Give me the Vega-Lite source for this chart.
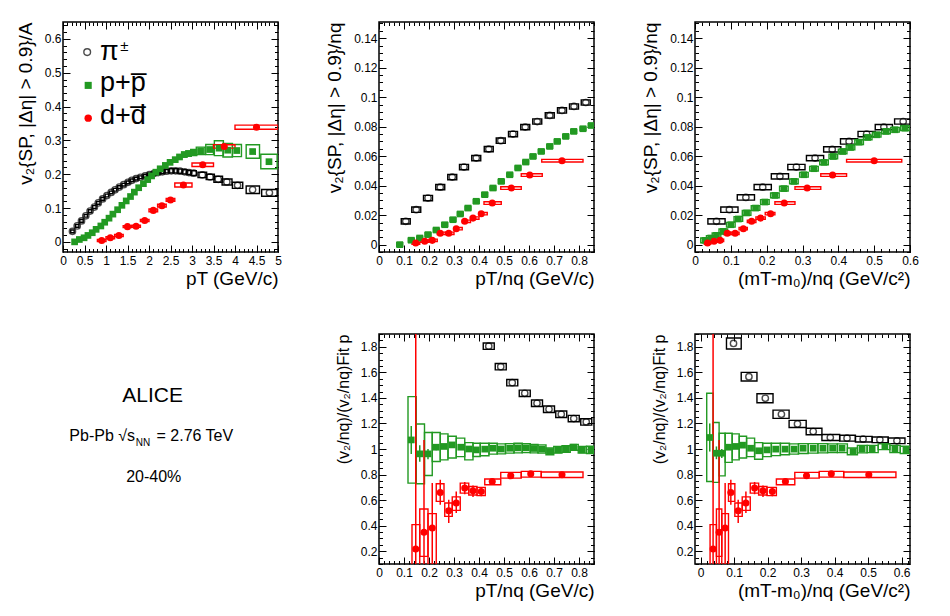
{
  "$schema": "https://vega.github.io/schema/vega-lite/v6.json",
  "autosize": {"type": "pad"},
  "padding": {"left": 15, "top": 20, "right": 0, "bottom": 0},
  "background": "white",
  "columns": 3,
  "spacing": {"row": 82, "column": 101},
  "bounds": "flush",
  "datasets": {
    "tl": [
      {"s":"pi","x":0.22,"y":0.031,"x0":0.18,"x1":0.26,"y0":0.027,"y1":0.035},
      {"s":"pi","x":0.33,"y":0.047,"x0":0.29,"x1":0.37,"y0":0.043,"y1":0.051},
      {"s":"pi","x":0.43,"y":0.062,"x0":0.39,"x1":0.47,"y0":0.058,"y1":0.066},
      {"s":"pi","x":0.53,"y":0.077,"x0":0.49,"x1":0.57,"y0":0.073,"y1":0.081},
      {"s":"pi","x":0.63,"y":0.091,"x0":0.59,"x1":0.67,"y0":0.087,"y1":0.095},
      {"s":"pi","x":0.73,"y":0.103,"x0":0.69,"x1":0.77,"y0":0.099,"y1":0.107},
      {"s":"pi","x":0.82,"y":0.115,"x0":0.78,"x1":0.86,"y0":0.111,"y1":0.119},
      {"s":"pi","x":0.92,"y":0.127,"x0":0.88,"x1":0.96,"y0":0.123,"y1":0.131},
      {"s":"pi","x":1.02,"y":0.137,"x0":0.98,"x1":1.06,"y0":0.133,"y1":0.141},
      {"s":"pi","x":1.12,"y":0.146,"x0":1.08,"x1":1.16,"y0":0.142,"y1":0.150},
      {"s":"pi","x":1.21,"y":0.154,"x0":1.17,"x1":1.25,"y0":0.150,"y1":0.158},
      {"s":"pi","x":1.31,"y":0.162,"x0":1.27,"x1":1.35,"y0":0.158,"y1":0.166},
      {"s":"pi","x":1.41,"y":0.169,"x0":1.37,"x1":1.45,"y0":0.165,"y1":0.173},
      {"s":"pi","x":1.51,"y":0.176,"x0":1.47,"x1":1.55,"y0":0.172,"y1":0.180},
      {"s":"pi","x":1.60,"y":0.182,"x0":1.56,"x1":1.64,"y0":0.178,"y1":0.186},
      {"s":"pi","x":1.70,"y":0.187,"x0":1.66,"x1":1.74,"y0":0.183,"y1":0.191},
      {"s":"pi","x":1.80,"y":0.191,"x0":1.76,"x1":1.84,"y0":0.187,"y1":0.195},
      {"s":"pi","x":1.91,"y":0.195,"x0":1.87,"x1":1.95,"y0":0.191,"y1":0.199},
      {"s":"pi","x":2.01,"y":0.199,"x0":1.97,"x1":2.05,"y0":0.194,"y1":0.204},
      {"s":"pi","x":2.11,"y":0.202,"x0":2.07,"x1":2.15,"y0":0.197,"y1":0.207},
      {"s":"pi","x":2.21,"y":0.205,"x0":2.17,"x1":2.25,"y0":0.200,"y1":0.210},
      {"s":"pi","x":2.31,"y":0.207,"x0":2.27,"x1":2.35,"y0":0.202,"y1":0.212},
      {"s":"pi","x":2.41,"y":0.209,"x0":2.37,"x1":2.45,"y0":0.204,"y1":0.214},
      {"s":"pi","x":2.52,"y":0.210,"x0":2.47,"x1":2.57,"y0":0.204,"y1":0.216},
      {"s":"pi","x":2.62,"y":0.210,"x0":2.57,"x1":2.67,"y0":0.204,"y1":0.216},
      {"s":"pi","x":2.72,"y":0.209,"x0":2.67,"x1":2.77,"y0":0.203,"y1":0.215},
      {"s":"pi","x":2.83,"y":0.207,"x0":2.78,"x1":2.88,"y0":0.201,"y1":0.213},
      {"s":"pi","x":2.93,"y":0.205,"x0":2.88,"x1":2.98,"y0":0.199,"y1":0.211},
      {"s":"pi","x":3.04,"y":0.203,"x0":2.98,"x1":3.10,"y0":0.196,"y1":0.210},
      {"s":"pi","x":3.24,"y":0.198,"x0":3.14,"x1":3.34,"y0":0.190,"y1":0.206},
      {"s":"pi","x":3.42,"y":0.192,"x0":3.33,"x1":3.52,"y0":0.184,"y1":0.200},
      {"s":"pi","x":3.61,"y":0.185,"x0":3.51,"x1":3.71,"y0":0.176,"y1":0.194},
      {"s":"pi","x":3.81,"y":0.177,"x0":3.70,"x1":3.93,"y0":0.168,"y1":0.186},
      {"s":"pi","x":4.06,"y":0.167,"x0":3.94,"x1":4.18,"y0":0.158,"y1":0.176},
      {"s":"pi","x":4.41,"y":0.154,"x0":4.26,"x1":4.57,"y0":0.143,"y1":0.165},
      {"s":"pi","x":4.80,"y":0.145,"x0":4.62,"x1":4.98,"y0":0.135,"y1":0.155},
      {"s":"p","x":0.27,"y":0.000,"x0":0.23,"x1":0.31,"y0":-0.004,"y1":0.004},
      {"s":"p","x":0.38,"y":0.007,"x0":0.34,"x1":0.42,"y0":0.003,"y1":0.011},
      {"s":"p","x":0.49,"y":0.012,"x0":0.45,"x1":0.53,"y0":0.008,"y1":0.016},
      {"s":"p","x":0.58,"y":0.019,"x0":0.54,"x1":0.62,"y0":0.015,"y1":0.023},
      {"s":"p","x":0.68,"y":0.027,"x0":0.64,"x1":0.72,"y0":0.023,"y1":0.031},
      {"s":"p","x":0.77,"y":0.037,"x0":0.73,"x1":0.81,"y0":0.033,"y1":0.041},
      {"s":"p","x":0.88,"y":0.047,"x0":0.84,"x1":0.92,"y0":0.043,"y1":0.051},
      {"s":"p","x":0.97,"y":0.058,"x0":0.93,"x1":1.01,"y0":0.054,"y1":0.062},
      {"s":"p","x":1.07,"y":0.070,"x0":1.03,"x1":1.11,"y0":0.066,"y1":0.074},
      {"s":"p","x":1.16,"y":0.082,"x0":1.12,"x1":1.20,"y0":0.078,"y1":0.086},
      {"s":"p","x":1.27,"y":0.095,"x0":1.23,"x1":1.31,"y0":0.091,"y1":0.099},
      {"s":"p","x":1.37,"y":0.108,"x0":1.33,"x1":1.41,"y0":0.104,"y1":0.112},
      {"s":"p","x":1.47,"y":0.121,"x0":1.43,"x1":1.51,"y0":0.117,"y1":0.125},
      {"s":"p","x":1.57,"y":0.134,"x0":1.53,"x1":1.61,"y0":0.130,"y1":0.138},
      {"s":"p","x":1.66,"y":0.147,"x0":1.62,"x1":1.70,"y0":0.143,"y1":0.151},
      {"s":"p","x":1.76,"y":0.160,"x0":1.72,"x1":1.80,"y0":0.156,"y1":0.164},
      {"s":"p","x":1.87,"y":0.172,"x0":1.83,"x1":1.91,"y0":0.168,"y1":0.176},
      {"s":"p","x":1.97,"y":0.184,"x0":1.93,"x1":2.01,"y0":0.180,"y1":0.188},
      {"s":"p","x":2.06,"y":0.195,"x0":2.02,"x1":2.10,"y0":0.190,"y1":0.200},
      {"s":"p","x":2.16,"y":0.206,"x0":2.12,"x1":2.20,"y0":0.201,"y1":0.211},
      {"s":"p","x":2.26,"y":0.216,"x0":2.22,"x1":2.30,"y0":0.211,"y1":0.221},
      {"s":"p","x":2.38,"y":0.226,"x0":2.34,"x1":2.42,"y0":0.221,"y1":0.231},
      {"s":"p","x":2.49,"y":0.235,"x0":2.45,"x1":2.53,"y0":0.230,"y1":0.240},
      {"s":"p","x":2.61,"y":0.243,"x0":2.56,"x1":2.66,"y0":0.237,"y1":0.249},
      {"s":"p","x":2.71,"y":0.251,"x0":2.66,"x1":2.76,"y0":0.245,"y1":0.257},
      {"s":"p","x":2.82,"y":0.258,"x0":2.76,"x1":2.88,"y0":0.251,"y1":0.265},
      {"s":"p","x":2.92,"y":0.261,"x0":2.86,"x1":2.98,"y0":0.253,"y1":0.269},
      {"s":"p","x":3.04,"y":0.264,"x0":2.97,"x1":3.11,"y0":0.255,"y1":0.273},
      {"s":"p","x":3.20,"y":0.269,"x0":3.10,"x1":3.30,"y0":0.258,"y1":0.280},
      {"s":"p","x":3.41,"y":0.273,"x0":3.32,"x1":3.50,"y0":0.258,"y1":0.288},
      {"s":"p","x":3.63,"y":0.277,"x0":3.52,"x1":3.73,"y0":0.255,"y1":0.299},
      {"s":"p","x":3.83,"y":0.271,"x0":3.72,"x1":3.94,"y0":0.251,"y1":0.291},
      {"s":"p","x":4.04,"y":0.270,"x0":3.94,"x1":4.15,"y0":0.252,"y1":0.288},
      {"s":"p","x":4.41,"y":0.267,"x0":4.26,"x1":4.57,"y0":0.247,"y1":0.287},
      {"s":"p","x":4.79,"y":0.237,"x0":4.60,"x1":4.98,"y0":0.216,"y1":0.259},
      {"s":"d","x":0.9,"y":0.004,"x0":0.8,"x1":1.0,"y0":0.001,"y1":0.007},
      {"s":"d","x":1.1,"y":0.012,"x0":1.0,"x1":1.2,"y0":0.009,"y1":0.015},
      {"s":"d","x":1.3,"y":0.019,"x0":1.2,"x1":1.4,"y0":0.016,"y1":0.022},
      {"s":"d","x":1.5,"y":0.045,"x0":1.4,"x1":1.6,"y0":0.042,"y1":0.048},
      {"s":"d","x":1.7,"y":0.046,"x0":1.6,"x1":1.8,"y0":0.043,"y1":0.049},
      {"s":"d","x":1.9,"y":0.063,"x0":1.8,"x1":2.0,"y0":0.060,"y1":0.066},
      {"s":"d","x":2.1,"y":0.093,"x0":2.0,"x1":2.2,"y0":0.089,"y1":0.097},
      {"s":"d","x":2.3,"y":0.107,"x0":2.2,"x1":2.4,"y0":0.103,"y1":0.111},
      {"s":"d","x":2.5,"y":0.124,"x0":2.4,"x1":2.6,"y0":0.120,"y1":0.128},
      {"s":"d","x":2.8,"y":0.168,"x0":2.6,"x1":3.0,"y0":0.162,"y1":0.174},
      {"s":"d","x":3.25,"y":0.228,"x0":3.0,"x1":3.5,"y0":0.223,"y1":0.233},
      {"s":"d","x":3.75,"y":0.282,"x0":3.5,"x1":4.0,"y0":0.277,"y1":0.287},
      {"s":"d","x":4.5,"y":0.339,"x0":4.0,"x1":5.0,"y0":0.333,"y1":0.345}
    ],
    "tm": [
      {"s":"pi","x":0.107,"y":0.0158,"x0":0.089,"x1":0.125,"y0":0.0140,"y1":0.0176},
      {"s":"pi","x":0.149,"y":0.0237,"x0":0.131,"x1":0.167,"y0":0.0219,"y1":0.0255},
      {"s":"pi","x":0.196,"y":0.0316,"x0":0.178,"x1":0.214,"y0":0.0298,"y1":0.0334},
      {"s":"pi","x":0.245,"y":0.0390,"x0":0.227,"x1":0.263,"y0":0.0372,"y1":0.0408},
      {"s":"pi","x":0.293,"y":0.0458,"x0":0.275,"x1":0.311,"y0":0.0440,"y1":0.0476},
      {"s":"pi","x":0.340,"y":0.0526,"x0":0.322,"x1":0.358,"y0":0.0508,"y1":0.0544},
      {"s":"pi","x":0.389,"y":0.0587,"x0":0.371,"x1":0.407,"y0":0.0569,"y1":0.0605},
      {"s":"pi","x":0.439,"y":0.0648,"x0":0.421,"x1":0.457,"y0":0.0630,"y1":0.0666},
      {"s":"pi","x":0.487,"y":0.0705,"x0":0.469,"x1":0.505,"y0":0.0687,"y1":0.0723},
      {"s":"pi","x":0.536,"y":0.0750,"x0":0.518,"x1":0.554,"y0":0.0732,"y1":0.0768},
      {"s":"pi","x":0.585,"y":0.0797,"x0":0.567,"x1":0.603,"y0":0.0779,"y1":0.0815},
      {"s":"pi","x":0.633,"y":0.0835,"x0":0.615,"x1":0.651,"y0":0.0817,"y1":0.0853},
      {"s":"pi","x":0.683,"y":0.0876,"x0":0.665,"x1":0.701,"y0":0.0858,"y1":0.0894},
      {"s":"pi","x":0.732,"y":0.0910,"x0":0.714,"x1":0.750,"y0":0.0892,"y1":0.0928},
      {"s":"pi","x":0.780,"y":0.0937,"x0":0.762,"x1":0.798,"y0":0.0919,"y1":0.0955},
      {"s":"pi","x":0.827,"y":0.0964,"x0":0.809,"x1":0.845,"y0":0.0946,"y1":0.0982},
      {"s":"p","x":0.083,"y":0.0000,"x0":0.071,"x1":0.095,"y0":-0.0013,"y1":0.0013},
      {"s":"p","x":0.129,"y":0.0030,"x0":0.117,"x1":0.141,"y0":0.0017,"y1":0.0043},
      {"s":"p","x":0.163,"y":0.0045,"x0":0.151,"x1":0.175,"y0":0.0032,"y1":0.0058},
      {"s":"p","x":0.196,"y":0.0068,"x0":0.184,"x1":0.208,"y0":0.0055,"y1":0.0081},
      {"s":"p","x":0.229,"y":0.0099,"x0":0.217,"x1":0.241,"y0":0.0086,"y1":0.0112},
      {"s":"p","x":0.263,"y":0.0135,"x0":0.251,"x1":0.275,"y0":0.0122,"y1":0.0148},
      {"s":"p","x":0.296,"y":0.0169,"x0":0.284,"x1":0.308,"y0":0.0156,"y1":0.0182},
      {"s":"p","x":0.325,"y":0.0208,"x0":0.313,"x1":0.337,"y0":0.0195,"y1":0.0221},
      {"s":"p","x":0.356,"y":0.0248,"x0":0.344,"x1":0.368,"y0":0.0235,"y1":0.0261},
      {"s":"p","x":0.389,"y":0.0294,"x0":0.377,"x1":0.401,"y0":0.0281,"y1":0.0307},
      {"s":"p","x":0.423,"y":0.0339,"x0":0.411,"x1":0.435,"y0":0.0326,"y1":0.0352},
      {"s":"p","x":0.456,"y":0.0384,"x0":0.444,"x1":0.468,"y0":0.0371,"y1":0.0397},
      {"s":"p","x":0.489,"y":0.0429,"x0":0.477,"x1":0.501,"y0":0.0416,"y1":0.0442},
      {"s":"p","x":0.523,"y":0.0474,"x0":0.511,"x1":0.535,"y0":0.0461,"y1":0.0487},
      {"s":"p","x":0.556,"y":0.0520,"x0":0.544,"x1":0.568,"y0":0.0507,"y1":0.0533},
      {"s":"p","x":0.587,"y":0.0560,"x0":0.575,"x1":0.599,"y0":0.0547,"y1":0.0573},
      {"s":"p","x":0.616,"y":0.0598,"x0":0.604,"x1":0.628,"y0":0.0585,"y1":0.0611},
      {"s":"p","x":0.649,"y":0.0632,"x0":0.637,"x1":0.661,"y0":0.0619,"y1":0.0645},
      {"s":"p","x":0.683,"y":0.0666,"x0":0.671,"x1":0.695,"y0":0.0653,"y1":0.0679},
      {"s":"p","x":0.713,"y":0.0700,"x0":0.701,"x1":0.725,"y0":0.0687,"y1":0.0713},
      {"s":"p","x":0.747,"y":0.0734,"x0":0.735,"x1":0.759,"y0":0.0721,"y1":0.0747},
      {"s":"p","x":0.779,"y":0.0768,"x0":0.767,"x1":0.791,"y0":0.0755,"y1":0.0781},
      {"s":"p","x":0.816,"y":0.0786,"x0":0.804,"x1":0.828,"y0":0.0773,"y1":0.0799},
      {"s":"p","x":0.849,"y":0.0808,"x0":0.837,"x1":0.861,"y0":0.0795,"y1":0.0821},
      {"s":"d","x":0.147,"y":0.0011,"x0":0.132,"x1":0.163,"y0":0.0003,"y1":0.0019},
      {"s":"d","x":0.183,"y":0.0023,"x0":0.167,"x1":0.200,"y0":0.0015,"y1":0.0031},
      {"s":"d","x":0.213,"y":0.0029,"x0":0.200,"x1":0.233,"y0":0.0021,"y1":0.0037},
      {"s":"d","x":0.245,"y":0.0077,"x0":0.233,"x1":0.266,"y0":0.0069,"y1":0.0085},
      {"s":"d","x":0.279,"y":0.0077,"x0":0.266,"x1":0.300,"y0":0.0069,"y1":0.0085},
      {"s":"d","x":0.309,"y":0.0108,"x0":0.300,"x1":0.333,"y0":0.0100,"y1":0.0116},
      {"s":"d","x":0.343,"y":0.0158,"x0":0.333,"x1":0.366,"y0":0.0150,"y1":0.0166},
      {"s":"d","x":0.376,"y":0.0180,"x0":0.366,"x1":0.400,"y0":0.0172,"y1":0.0188},
      {"s":"d","x":0.409,"y":0.0210,"x0":0.400,"x1":0.433,"y0":0.0202,"y1":0.0218},
      {"s":"d","x":0.453,"y":0.0282,"x0":0.420,"x1":0.489,"y0":0.0273,"y1":0.0291},
      {"s":"d","x":0.529,"y":0.0384,"x0":0.487,"x1":0.569,"y0":0.0375,"y1":0.0393},
      {"s":"d","x":0.603,"y":0.0472,"x0":0.569,"x1":0.653,"y0":0.0463,"y1":0.0481},
      {"s":"d","x":0.732,"y":0.0569,"x0":0.651,"x1":0.816,"y0":0.0560,"y1":0.0578}
    ],
    "tr": [
      {"s":"pi","x":0.060,"y":0.0158,"x0":0.036,"x1":0.084,"y0":0.0140,"y1":0.0176},
      {"s":"pi","x":0.096,"y":0.0237,"x0":0.072,"x1":0.120,"y0":0.0219,"y1":0.0255},
      {"s":"pi","x":0.142,"y":0.0320,"x0":0.118,"x1":0.166,"y0":0.0302,"y1":0.0338},
      {"s":"pi","x":0.189,"y":0.0390,"x0":0.165,"x1":0.213,"y0":0.0372,"y1":0.0408},
      {"s":"pi","x":0.237,"y":0.0463,"x0":0.213,"x1":0.261,"y0":0.0445,"y1":0.0481},
      {"s":"pi","x":0.283,"y":0.0526,"x0":0.259,"x1":0.307,"y0":0.0508,"y1":0.0544},
      {"s":"pi","x":0.335,"y":0.0587,"x0":0.311,"x1":0.359,"y0":0.0569,"y1":0.0605},
      {"s":"pi","x":0.383,"y":0.0646,"x0":0.359,"x1":0.407,"y0":0.0628,"y1":0.0664},
      {"s":"pi","x":0.430,"y":0.0700,"x0":0.406,"x1":0.454,"y0":0.0682,"y1":0.0718},
      {"s":"pi","x":0.479,"y":0.0750,"x0":0.455,"x1":0.503,"y0":0.0732,"y1":0.0768},
      {"s":"pi","x":0.527,"y":0.0797,"x0":0.503,"x1":0.551,"y0":0.0779,"y1":0.0815},
      {"s":"pi","x":0.581,"y":0.0835,"x0":0.557,"x1":0.605,"y0":0.0817,"y1":0.0853},
      {"s":"p","x":0.028,"y":0.0029,"x0":0.016,"x1":0.040,"y0":0.0013,"y1":0.0045},
      {"s":"p","x":0.044,"y":0.0045,"x0":0.032,"x1":0.056,"y0":0.0029,"y1":0.0061},
      {"s":"p","x":0.060,"y":0.0063,"x0":0.048,"x1":0.072,"y0":0.0047,"y1":0.0079},
      {"s":"p","x":0.079,"y":0.0090,"x0":0.067,"x1":0.091,"y0":0.0074,"y1":0.0106},
      {"s":"p","x":0.100,"y":0.0135,"x0":0.088,"x1":0.112,"y0":0.0119,"y1":0.0151},
      {"s":"p","x":0.121,"y":0.0174,"x0":0.109,"x1":0.133,"y0":0.0158,"y1":0.0190},
      {"s":"p","x":0.144,"y":0.0215,"x0":0.132,"x1":0.156,"y0":0.0199,"y1":0.0231},
      {"s":"p","x":0.169,"y":0.0248,"x0":0.157,"x1":0.181,"y0":0.0232,"y1":0.0264},
      {"s":"p","x":0.195,"y":0.0289,"x0":0.183,"x1":0.207,"y0":0.0273,"y1":0.0305},
      {"s":"p","x":0.223,"y":0.0334,"x0":0.211,"x1":0.235,"y0":0.0318,"y1":0.0350},
      {"s":"p","x":0.248,"y":0.0380,"x0":0.236,"x1":0.260,"y0":0.0364,"y1":0.0396},
      {"s":"p","x":0.276,"y":0.0429,"x0":0.264,"x1":0.288,"y0":0.0413,"y1":0.0445},
      {"s":"p","x":0.304,"y":0.0474,"x0":0.292,"x1":0.316,"y0":0.0458,"y1":0.0490},
      {"s":"p","x":0.332,"y":0.0515,"x0":0.320,"x1":0.344,"y0":0.0499,"y1":0.0531},
      {"s":"p","x":0.360,"y":0.0558,"x0":0.348,"x1":0.372,"y0":0.0542,"y1":0.0574},
      {"s":"p","x":0.386,"y":0.0598,"x0":0.374,"x1":0.398,"y0":0.0582,"y1":0.0614},
      {"s":"p","x":0.412,"y":0.0632,"x0":0.400,"x1":0.424,"y0":0.0616,"y1":0.0648},
      {"s":"p","x":0.434,"y":0.0659,"x0":0.422,"x1":0.446,"y0":0.0643,"y1":0.0675},
      {"s":"p","x":0.458,"y":0.0695,"x0":0.446,"x1":0.470,"y0":0.0679,"y1":0.0711},
      {"s":"p","x":0.482,"y":0.0727,"x0":0.470,"x1":0.494,"y0":0.0711,"y1":0.0743},
      {"s":"p","x":0.507,"y":0.0745,"x0":0.495,"x1":0.519,"y0":0.0729,"y1":0.0761},
      {"s":"p","x":0.533,"y":0.0768,"x0":0.521,"x1":0.545,"y0":0.0752,"y1":0.0784},
      {"s":"p","x":0.558,"y":0.0779,"x0":0.546,"x1":0.570,"y0":0.0763,"y1":0.0795},
      {"s":"p","x":0.586,"y":0.0790,"x0":0.574,"x1":0.598,"y0":0.0774,"y1":0.0806},
      {"s":"d","x":0.035,"y":0.0011,"x0":0.026,"x1":0.044,"y0":0.0003,"y1":0.0019},
      {"s":"d","x":0.053,"y":0.0023,"x0":0.044,"x1":0.062,"y0":0.0015,"y1":0.0031},
      {"s":"d","x":0.070,"y":0.0029,"x0":0.062,"x1":0.080,"y0":0.0021,"y1":0.0037},
      {"s":"d","x":0.090,"y":0.0077,"x0":0.080,"x1":0.100,"y0":0.0069,"y1":0.0085},
      {"s":"d","x":0.112,"y":0.0077,"x0":0.100,"x1":0.123,"y0":0.0069,"y1":0.0085},
      {"s":"d","x":0.135,"y":0.0108,"x0":0.123,"x1":0.146,"y0":0.0100,"y1":0.0116},
      {"s":"d","x":0.158,"y":0.0158,"x0":0.146,"x1":0.170,"y0":0.0150,"y1":0.0166},
      {"s":"d","x":0.183,"y":0.0180,"x0":0.170,"x1":0.196,"y0":0.0172,"y1":0.0188},
      {"s":"d","x":0.211,"y":0.0210,"x0":0.196,"x1":0.223,"y0":0.0202,"y1":0.0218},
      {"s":"d","x":0.249,"y":0.0282,"x0":0.223,"x1":0.279,"y0":0.0273,"y1":0.0291},
      {"s":"d","x":0.313,"y":0.0384,"x0":0.279,"x1":0.351,"y0":0.0375,"y1":0.0393},
      {"s":"d","x":0.384,"y":0.0472,"x0":0.351,"x1":0.423,"y0":0.0463,"y1":0.0481},
      {"s":"d","x":0.500,"y":0.0569,"x0":0.423,"x1":0.577,"y0":0.0560,"y1":0.0578}
    ],
    "bm": [
      {"s":"pi","x":0.439,"y":1.805,"x0":0.417,"x1":0.461,"y0":1.780,"y1":1.830},
      {"s":"pi","x":0.487,"y":1.644,"x0":0.465,"x1":0.509,"y0":1.619,"y1":1.669},
      {"s":"pi","x":0.533,"y":1.519,"x0":0.511,"x1":0.555,"y0":1.494,"y1":1.544},
      {"s":"pi","x":0.583,"y":1.436,"x0":0.561,"x1":0.605,"y0":1.411,"y1":1.461},
      {"s":"pi","x":0.632,"y":1.358,"x0":0.610,"x1":0.654,"y0":1.333,"y1":1.383},
      {"s":"pi","x":0.680,"y":1.311,"x0":0.658,"x1":0.702,"y0":1.286,"y1":1.336},
      {"s":"pi","x":0.729,"y":1.272,"x0":0.707,"x1":0.751,"y0":1.247,"y1":1.297},
      {"s":"pi","x":0.779,"y":1.238,"x0":0.757,"x1":0.801,"y0":1.213,"y1":1.263},
      {"s":"pi","x":0.829,"y":1.212,"x0":0.807,"x1":0.851,"y0":1.187,"y1":1.237},
      {"s":"p","x":0.129,"y":1.071,"x0":0.116,"x1":0.149,"y0":0.733,"y1":1.410,"e0":0.96,"e1":1.18},
      {"s":"p","x":0.163,"y":0.962,"x0":0.149,"x1":0.182,"y0":0.728,"y1":1.196,"e0":0.90,"e1":1.03},
      {"s":"p","x":0.196,"y":0.962,"x0":0.182,"x1":0.213,"y0":0.793,"y1":1.129,"e0":0.92,"e1":1.00},
      {"s":"p","x":0.229,"y":1.014,"x0":0.213,"x1":0.245,"y0":0.902,"y1":1.129,"e0":0.99,"e1":1.04},
      {"s":"p","x":0.260,"y":1.020,"x0":0.245,"x1":0.276,"y0":0.915,"y1":1.118},
      {"s":"p","x":0.293,"y":1.032,"x0":0.276,"x1":0.309,"y0":0.930,"y1":1.100},
      {"s":"p","x":0.327,"y":1.014,"x0":0.309,"x1":0.343,"y0":0.940,"y1":1.085},
      {"s":"p","x":0.359,"y":1.000,"x0":0.343,"x1":0.376,"y0":0.915,"y1":1.050},
      {"s":"p","x":0.389,"y":0.993,"x0":0.376,"x1":0.405,"y0":0.941,"y1":1.045},
      {"s":"p","x":0.423,"y":0.999,"x0":0.405,"x1":0.440,"y0":0.947,"y1":1.045},
      {"s":"p","x":0.456,"y":1.006,"x0":0.440,"x1":0.473,"y0":0.960,"y1":1.045},
      {"s":"p","x":0.489,"y":1.000,"x0":0.473,"x1":0.506,"y0":0.962,"y1":1.040},
      {"s":"p","x":0.523,"y":1.006,"x0":0.506,"x1":0.540,"y0":0.968,"y1":1.042},
      {"s":"p","x":0.556,"y":1.009,"x0":0.540,"x1":0.573,"y0":0.970,"y1":1.045},
      {"s":"p","x":0.589,"y":1.009,"x0":0.573,"x1":0.605,"y0":0.972,"y1":1.042},
      {"s":"p","x":0.620,"y":1.004,"x0":0.605,"x1":0.636,"y0":0.970,"y1":1.035},
      {"s":"p","x":0.653,"y":0.999,"x0":0.636,"x1":0.668,"y0":0.968,"y1":1.032},
      {"s":"p","x":0.683,"y":0.980,"x0":0.668,"x1":0.699,"y0":0.955,"y1":1.008},
      {"s":"p","x":0.716,"y":0.993,"x0":0.699,"x1":0.732,"y0":0.968,"y1":1.020},
      {"s":"p","x":0.749,"y":0.999,"x0":0.732,"x1":0.765,"y0":0.974,"y1":1.025},
      {"s":"p","x":0.779,"y":1.014,"x0":0.765,"x1":0.797,"y0":0.990,"y1":1.036},
      {"s":"p","x":0.813,"y":0.993,"x0":0.797,"x1":0.830,"y0":0.968,"y1":1.020},
      {"s":"p","x":0.849,"y":0.993,"x0":0.830,"x1":0.862,"y0":0.965,"y1":1.022},
      {"s":"d","x":0.147,"y":0.218,"x0":0.132,"x1":0.163,"y0":0.020,"y1":0.408,"e0":-1.0,"e1":3.0},
      {"s":"d","x":0.180,"y":0.348,"x0":0.163,"x1":0.196,"y0":0.160,"y1":0.530,"e0":-1.0,"e1":1.07},
      {"s":"d","x":0.213,"y":0.382,"x0":0.196,"x1":0.229,"y0":0.096,"y1":0.494,"e0":-1.0,"e1":0.733},
      {"s":"d","x":0.245,"y":0.660,"x0":0.229,"x1":0.260,"y0":0.590,"y1":0.728,"e0":0.564,"e1":0.760},
      {"s":"d","x":0.279,"y":0.517,"x0":0.263,"x1":0.293,"y0":0.473,"y1":0.577,"e0":0.420,"e1":0.603},
      {"s":"d","x":0.309,"y":0.577,"x0":0.293,"x1":0.325,"y0":0.520,"y1":0.625,"e0":0.500,"e1":0.668},
      {"s":"d","x":0.343,"y":0.694,"x0":0.325,"x1":0.359,"y0":0.655,"y1":0.733,"e0":0.646,"e1":0.742},
      {"s":"d","x":0.376,"y":0.673,"x0":0.359,"x1":0.392,"y0":0.640,"y1":0.706,"e0":0.625,"e1":0.715},
      {"s":"d","x":0.409,"y":0.668,"x0":0.392,"x1":0.425,"y0":0.635,"y1":0.700,"e0":0.630,"e1":0.700},
      {"s":"d","x":0.453,"y":0.746,"x0":0.423,"x1":0.487,"y0":0.720,"y1":0.765,"e0":0.720,"e1":0.770},
      {"s":"d","x":0.527,"y":0.790,"x0":0.487,"x1":0.569,"y0":0.772,"y1":0.817},
      {"s":"d","x":0.607,"y":0.806,"x0":0.569,"x1":0.649,"y0":0.780,"y1":0.825},
      {"s":"d","x":0.732,"y":0.798,"x0":0.649,"x1":0.816,"y0":0.777,"y1":0.820}
    ],
    "br": [
      {"s":"pi","x":0.098,"y":1.826,"x0":0.077,"x1":0.121,"y0":1.783,"y1":1.869},
      {"s":"pi","x":0.144,"y":1.566,"x0":0.121,"x1":0.168,"y0":1.532,"y1":1.600},
      {"s":"pi","x":0.193,"y":1.397,"x0":0.168,"x1":0.216,"y0":1.362,"y1":1.432},
      {"s":"pi","x":0.241,"y":1.272,"x0":0.216,"x1":0.264,"y0":1.240,"y1":1.304},
      {"s":"pi","x":0.289,"y":1.196,"x0":0.264,"x1":0.315,"y0":1.168,"y1":1.224},
      {"s":"pi","x":0.336,"y":1.137,"x0":0.315,"x1":0.362,"y0":1.112,"y1":1.162},
      {"s":"pi","x":0.387,"y":1.090,"x0":0.362,"x1":0.415,"y0":1.066,"y1":1.114},
      {"s":"pi","x":0.437,"y":1.085,"x0":0.415,"x1":0.462,"y0":1.062,"y1":1.108},
      {"s":"pi","x":0.485,"y":1.077,"x0":0.462,"x1":0.512,"y0":1.055,"y1":1.099},
      {"s":"pi","x":0.535,"y":1.072,"x0":0.512,"x1":0.560,"y0":1.050,"y1":1.094},
      {"s":"pi","x":0.586,"y":1.064,"x0":0.560,"x1":0.610,"y0":1.042,"y1":1.086},
      {"s":"p","x":0.027,"y":1.090,"x0":0.018,"x1":0.037,"y0":0.746,"y1":1.436,"e0":0.98,"e1":1.20},
      {"s":"p","x":0.047,"y":0.967,"x0":0.037,"x1":0.055,"y0":0.739,"y1":1.207,"e0":0.92,"e1":1.02},
      {"s":"p","x":0.063,"y":0.967,"x0":0.055,"x1":0.073,"y0":0.790,"y1":1.123,"e0":0.93,"e1":1.00},
      {"s":"p","x":0.083,"y":1.014,"x0":0.073,"x1":0.094,"y0":0.895,"y1":1.123},
      {"s":"p","x":0.105,"y":1.020,"x0":0.094,"x1":0.115,"y0":0.915,"y1":1.118},
      {"s":"p","x":0.125,"y":1.030,"x0":0.115,"x1":0.137,"y0":0.930,"y1":1.100},
      {"s":"p","x":0.149,"y":1.006,"x0":0.137,"x1":0.161,"y0":0.940,"y1":1.085},
      {"s":"p","x":0.173,"y":0.986,"x0":0.161,"x1":0.185,"y0":0.920,"y1":1.050},
      {"s":"p","x":0.198,"y":0.993,"x0":0.185,"x1":0.211,"y0":0.940,"y1":1.045},
      {"s":"p","x":0.224,"y":0.999,"x0":0.211,"x1":0.238,"y0":0.948,"y1":1.045},
      {"s":"p","x":0.252,"y":0.999,"x0":0.238,"x1":0.265,"y0":0.955,"y1":1.045},
      {"s":"p","x":0.279,"y":0.999,"x0":0.265,"x1":0.292,"y0":0.960,"y1":1.040},
      {"s":"p","x":0.306,"y":1.006,"x0":0.292,"x1":0.321,"y0":0.965,"y1":1.042},
      {"s":"p","x":0.336,"y":1.006,"x0":0.321,"x1":0.350,"y0":0.968,"y1":1.042},
      {"s":"p","x":0.365,"y":1.006,"x0":0.350,"x1":0.379,"y0":0.970,"y1":1.042},
      {"s":"p","x":0.394,"y":1.006,"x0":0.379,"x1":0.408,"y0":0.972,"y1":1.040},
      {"s":"p","x":0.422,"y":1.006,"x0":0.408,"x1":0.438,"y0":0.972,"y1":1.040},
      {"s":"p","x":0.455,"y":0.980,"x0":0.438,"x1":0.468,"y0":0.955,"y1":1.008},
      {"s":"p","x":0.482,"y":0.999,"x0":0.468,"x1":0.497,"y0":0.970,"y1":1.028},
      {"s":"p","x":0.512,"y":0.999,"x0":0.497,"x1":0.530,"y0":0.972,"y1":1.028},
      {"s":"p","x":0.550,"y":1.019,"x0":0.530,"x1":0.565,"y0":0.995,"y1":1.040},
      {"s":"p","x":0.580,"y":0.999,"x0":0.565,"x1":0.596,"y0":0.972,"y1":1.028},
      {"s":"p","x":0.613,"y":0.993,"x0":0.596,"x1":0.630,"y0":0.965,"y1":1.022},
      {"s":"d","x":0.037,"y":0.218,"x0":0.028,"x1":0.047,"y0":0.020,"y1":0.408,"e0":-1.0,"e1":3.0},
      {"s":"d","x":0.055,"y":0.348,"x0":0.047,"x1":0.063,"y0":0.160,"y1":0.530,"e0":-1.0,"e1":1.07},
      {"s":"d","x":0.073,"y":0.382,"x0":0.063,"x1":0.083,"y0":0.096,"y1":0.494,"e0":-1.0,"e1":0.733},
      {"s":"d","x":0.090,"y":0.660,"x0":0.083,"x1":0.102,"y0":0.590,"y1":0.728,"e0":0.564,"e1":0.760},
      {"s":"d","x":0.112,"y":0.517,"x0":0.102,"x1":0.124,"y0":0.473,"y1":0.577,"e0":0.420,"e1":0.603},
      {"s":"d","x":0.135,"y":0.577,"x0":0.124,"x1":0.148,"y0":0.520,"y1":0.625,"e0":0.500,"e1":0.668},
      {"s":"d","x":0.161,"y":0.694,"x0":0.148,"x1":0.173,"y0":0.655,"y1":0.733,"e0":0.646,"e1":0.742},
      {"s":"d","x":0.186,"y":0.673,"x0":0.173,"x1":0.198,"y0":0.640,"y1":0.706,"e0":0.625,"e1":0.715},
      {"s":"d","x":0.214,"y":0.668,"x0":0.198,"x1":0.226,"y0":0.635,"y1":0.700,"e0":0.630,"e1":0.700},
      {"s":"d","x":0.253,"y":0.746,"x0":0.226,"x1":0.281,"y0":0.720,"y1":0.765,"e0":0.720,"e1":0.770},
      {"s":"d","x":0.316,"y":0.790,"x0":0.281,"x1":0.354,"y0":0.772,"y1":0.817},
      {"s":"d","x":0.390,"y":0.806,"x0":0.354,"x1":0.427,"y0":0.780,"y1":0.825},
      {"s":"d","x":0.502,"y":0.798,"x0":0.427,"x1":0.583,"y0":0.777,"y1":0.820}
    ],
    "legm": [
      {"s":"pi","x":0.5625,"y":0.561},
      {"s":"p","x":0.586,"y":0.4626},
      {"s":"d","x":0.586,"y":0.3657}
    ],
    "legt": [
      {"k":"main","t":"π","x":0.86,"y":0.539},
      {"k":"sup","t":"±","x":1.33,"y":0.565},
      {"k":"main","t":"p+p\u0305","x":0.86,"y":0.445},
      {"k":"main","t":"d+d\u0305","x":0.86,"y":0.348}
    ],
    "info": [
      {"k":"title","t":"ALICE","x":0.417,"y":0.703},
      {"k":"c","t":"20-40%","x":0.422,"y":0.356},
      {"k":"r","t":"Pb-Pb √s","x":0.335,"y":0.534},
      {"k":"sub","t":"NN","x":0.338,"y":0.512},
      {"k":"l","t":"= 2.76 TeV","x":0.435,"y":0.534}
    ]
  },
  "concat": [
    {
      "width": 215, "height": 230,
      "data": {"name": "tl"},
      "resolve": {"axis": {"x": "independent", "y": "independent"}},
      "layer": [
        {
          "transform": [{"filter": "isValid(datum.x0)"}],
          "mark": {"type": "rect", "filled": false, "strokeWidth": 1.4, "clip": true},
          "encoding": {
            "x": {"field": "x0", "type": "quantitative", "scale": {"domain": [0, 5], "nice": false, "zero": false},
                  "axis": {"orient": "bottom", "values": [0,0.5,1,1.5,2,2.5,3,3.5,4,4.5,5], "format": "~g", "ticks": false, "labelPadding": 3, "title": "pT (GeV/c)", "titleAnchor": "end", "titlePadding": 3}},
            "x2": {"field": "x1"},
            "y": {"field": "y0", "type": "quantitative", "scale": {"domain": [-0.03, 0.65], "nice": false, "zero": false},
                  "axis": {"orient": "left", "values": [0,0.1,0.2,0.3,0.4,0.5,0.6], "format": "~g", "ticks": false, "labelPadding": 2, "title": "v₂{SP, |Δη| > 0.9}/A", "titleAnchor": "end", "titlePadding": 9}},
            "y2": {"field": "y1"},
            "color": {"field": "s", "type": "nominal", "scale": {"domain": ["pi","p","d"], "range": ["black","#229922","#ff0000"]}, "legend": null}
          }
        },
        {
          "transform": [{"filter": "isValid(datum.e0)"}],
          "mark": {"type": "rule", "strokeWidth": 1.5, "clip": true},
          "encoding": {
            "x": {"field": "x", "type": "quantitative", "scale": {"domain": [0, 5], "nice": false, "zero": false},
                  "axis": {"orient": "bottom", "values": [0,0.5,1,1.5,2,2.5,3,3.5,4,4.5,5], "labels": false, "title": null, "tickSize": 7, "offset": -7}},
            "y": {"field": "e0", "type": "quantitative", "scale": {"domain": [-0.03, 0.65], "nice": false, "zero": false},
                  "axis": {"orient": "left", "values": [0,0.1,0.2,0.3,0.4,0.5,0.6], "labels": false, "title": null, "tickSize": 7, "offset": -7}},
            "y2": {"field": "e1"},
            "color": {"field": "s", "type": "nominal", "scale": {"domain": ["pi","p","d"], "range": ["black","#229922","#ff0000"]}, "legend": null}
          }
        },
        {
          "transform": [{"filter": "datum.s == 'pi'"}],
          "mark": {"type": "point", "shape": "circle", "filled": false, "size": 40, "strokeWidth": 1.4, "color": "black", "clip": true},
          "encoding": {
            "x": {"field": "x", "type": "quantitative", "scale": {"domain": [0, 5], "nice": false, "zero": false},
                  "axis": {"orient": "top", "values": [0,0.5,1,1.5,2,2.5,3,3.5,4,4.5,5], "labels": false, "title": null, "tickSize": 7, "offset": -7}},
            "y": {"field": "y", "type": "quantitative", "scale": {"domain": [-0.03, 0.65], "nice": false, "zero": false},
                  "axis": {"orient": "right", "values": [0,0.1,0.2,0.3,0.4,0.5,0.6], "labels": false, "title": null, "tickSize": 7, "offset": -7}}
          }
        },
        {
          "transform": [{"filter": "datum.s == 'p'"}],
          "mark": {"type": "square", "size": 45, "color": "#229922", "opacity": 1, "clip": true},
          "encoding": {
            "x": {"field": "x", "type": "quantitative", "scale": {"domain": [0, 5], "nice": false, "zero": false},
                  "axis": {"orient": "bottom", "tickCount": 50, "labels": false, "title": null, "tickSize": 3.5, "offset": -3.5}},
            "y": {"field": "y", "type": "quantitative", "scale": {"domain": [-0.03, 0.65], "nice": false, "zero": false},
                  "axis": {"orient": "left", "tickCount": 34, "labels": false, "title": null, "tickSize": 3.5, "offset": -3.5}}
          }
        },
        {
          "transform": [{"filter": "datum.s == 'd'"}],
          "mark": {"type": "circle", "size": 50, "color": "#ff0000", "opacity": 1, "clip": true},
          "encoding": {
            "x": {"field": "x", "type": "quantitative", "scale": {"domain": [0, 5], "nice": false, "zero": false},
                  "axis": {"orient": "top", "tickCount": 50, "labels": false, "title": null, "tickSize": 3.5, "offset": -3.5}},
            "y": {"field": "y", "type": "quantitative", "scale": {"domain": [-0.03, 0.65], "nice": false, "zero": false},
                  "axis": {"orient": "right", "tickCount": 34, "labels": false, "title": null, "tickSize": 3.5, "offset": -3.5}}
          }
        },
        {
          "data": {"name": "legm"},
          "transform": [{"filter": "datum.s == 'pi'"}],
          "mark": {"type": "point", "shape": "circle", "filled": false, "size": 45, "strokeWidth": 1.4, "color": "black"},
          "encoding": {
            "x": {"field": "x", "type": "quantitative", "scale": {"domain": [0, 5], "nice": false, "zero": false}, "axis": null},
            "y": {"field": "y", "type": "quantitative", "scale": {"domain": [-0.03, 0.65], "nice": false, "zero": false}, "axis": null}
          }
        },
        {
          "data": {"name": "legm"},
          "transform": [{"filter": "datum.s == 'p'"}],
          "mark": {"type": "square", "size": 50, "color": "#229922", "opacity": 1},
          "encoding": {
            "x": {"field": "x", "type": "quantitative", "scale": {"domain": [0, 5], "nice": false, "zero": false}, "axis": null},
            "y": {"field": "y", "type": "quantitative", "scale": {"domain": [-0.03, 0.65], "nice": false, "zero": false}, "axis": null}
          }
        },
        {
          "data": {"name": "legm"},
          "transform": [{"filter": "datum.s == 'd'"}],
          "mark": {"type": "circle", "size": 55, "color": "#ff0000", "opacity": 1},
          "encoding": {
            "x": {"field": "x", "type": "quantitative", "scale": {"domain": [0, 5], "nice": false, "zero": false}, "axis": null},
            "y": {"field": "y", "type": "quantitative", "scale": {"domain": [-0.03, 0.65], "nice": false, "zero": false}, "axis": null}
          }
        },
        {
          "data": {"name": "legt"},
          "transform": [{"filter": "datum.k == 'main'"}],
          "mark": {"type": "text", "fontSize": 27, "align": "left", "baseline": "alphabetic", "color": "black"},
          "encoding": {
            "x": {"field": "x", "type": "quantitative", "scale": {"domain": [0, 5], "nice": false, "zero": false}, "axis": null},
            "y": {"field": "y", "type": "quantitative", "scale": {"domain": [-0.03, 0.65], "nice": false, "zero": false}, "axis": null},
            "text": {"field": "t"}
          }
        },
        {
          "data": {"name": "legt"},
          "transform": [{"filter": "datum.k == 'sup'"}],
          "mark": {"type": "text", "fontSize": 15, "align": "left", "baseline": "alphabetic", "color": "black"},
          "encoding": {
            "x": {"field": "x", "type": "quantitative", "scale": {"domain": [0, 5], "nice": false, "zero": false}, "axis": null},
            "y": {"field": "y", "type": "quantitative", "scale": {"domain": [-0.03, 0.65], "nice": false, "zero": false}, "axis": null},
            "text": {"field": "t"}
          }
        }
      ]
    },
    {
      "width": 215, "height": 230,
      "data": {"name": "tm"},
      "resolve": {"axis": {"x": "independent", "y": "independent"}},
      "layer": [
        {
          "transform": [{"filter": "isValid(datum.x0)"}],
          "mark": {"type": "rect", "filled": false, "strokeWidth": 1.4, "clip": true},
          "encoding": {
            "x": {"field": "x0", "type": "quantitative", "scale": {"domain": [0, 0.86], "nice": false, "zero": false},
                  "axis": {"orient": "bottom", "values": [0,0.1,0.2,0.3,0.4,0.5,0.6,0.7,0.8], "format": "~g", "ticks": false, "labelPadding": 3, "title": "pT/nq (GeV/c)", "titleAnchor": "end", "titlePadding": 3}},
            "x2": {"field": "x1"},
            "y": {"field": "y0", "type": "quantitative", "scale": {"domain": [-0.005, 0.151], "nice": false, "zero": false},
                  "axis": {"orient": "left", "values": [0,0.02,0.04,0.06,0.08,0.1,0.12,0.14], "format": "~g", "ticks": false, "labelPadding": 2, "title": "v₂{SP, |Δη| > 0.9}/nq", "titleAnchor": "end", "titlePadding": 9}},
            "y2": {"field": "y1"},
            "color": {"field": "s", "type": "nominal", "scale": {"domain": ["pi","p","d"], "range": ["black","#229922","#ff0000"]}, "legend": null}
          }
        },
        {
          "transform": [{"filter": "isValid(datum.e0)"}],
          "mark": {"type": "rule", "strokeWidth": 1.5, "clip": true},
          "encoding": {
            "x": {"field": "x", "type": "quantitative", "scale": {"domain": [0, 0.86], "nice": false, "zero": false},
                  "axis": {"orient": "bottom", "values": [0,0.1,0.2,0.3,0.4,0.5,0.6,0.7,0.8], "labels": false, "title": null, "tickSize": 7, "offset": -7}},
            "y": {"field": "e0", "type": "quantitative", "scale": {"domain": [-0.005, 0.151], "nice": false, "zero": false},
                  "axis": {"orient": "left", "values": [0,0.02,0.04,0.06,0.08,0.1,0.12,0.14], "labels": false, "title": null, "tickSize": 7, "offset": -7}},
            "y2": {"field": "e1"},
            "color": {"field": "s", "type": "nominal", "scale": {"domain": ["pi","p","d"], "range": ["black","#229922","#ff0000"]}, "legend": null}
          }
        },
        {
          "transform": [{"filter": "datum.s == 'pi'"}],
          "mark": {"type": "point", "shape": "circle", "filled": false, "size": 40, "strokeWidth": 1.4, "color": "black", "clip": true},
          "encoding": {
            "x": {"field": "x", "type": "quantitative", "scale": {"domain": [0, 0.86], "nice": false, "zero": false},
                  "axis": {"orient": "top", "values": [0,0.1,0.2,0.3,0.4,0.5,0.6,0.7,0.8], "labels": false, "title": null, "tickSize": 7, "offset": -7}},
            "y": {"field": "y", "type": "quantitative", "scale": {"domain": [-0.005, 0.151], "nice": false, "zero": false},
                  "axis": {"orient": "right", "values": [0,0.02,0.04,0.06,0.08,0.1,0.12,0.14], "labels": false, "title": null, "tickSize": 7, "offset": -7}}
          }
        },
        {
          "transform": [{"filter": "datum.s == 'p'"}],
          "mark": {"type": "square", "size": 45, "color": "#229922", "opacity": 1, "clip": true},
          "encoding": {
            "x": {"field": "x", "type": "quantitative", "scale": {"domain": [0, 0.86], "nice": false, "zero": false},
                  "axis": {"orient": "bottom", "tickCount": 43, "labels": false, "title": null, "tickSize": 3.5, "offset": -3.5}},
            "y": {"field": "y", "type": "quantitative", "scale": {"domain": [-0.005, 0.151], "nice": false, "zero": false},
                  "axis": {"orient": "left", "tickCount": 31, "labels": false, "title": null, "tickSize": 3.5, "offset": -3.5}}
          }
        },
        {
          "transform": [{"filter": "datum.s == 'd'"}],
          "mark": {"type": "circle", "size": 50, "color": "#ff0000", "opacity": 1, "clip": true},
          "encoding": {
            "x": {"field": "x", "type": "quantitative", "scale": {"domain": [0, 0.86], "nice": false, "zero": false},
                  "axis": {"orient": "top", "tickCount": 43, "labels": false, "title": null, "tickSize": 3.5, "offset": -3.5}},
            "y": {"field": "y", "type": "quantitative", "scale": {"domain": [-0.005, 0.151], "nice": false, "zero": false},
                  "axis": {"orient": "right", "tickCount": 31, "labels": false, "title": null, "tickSize": 3.5, "offset": -3.5}}
          }
        }
      ]
    },
    {
      "width": 215, "height": 230,
      "data": {"name": "tr"},
      "resolve": {"axis": {"x": "independent", "y": "independent"}},
      "layer": [
        {
          "transform": [{"filter": "isValid(datum.x0)"}],
          "mark": {"type": "rect", "filled": false, "strokeWidth": 1.4, "clip": true},
          "encoding": {
            "x": {"field": "x0", "type": "quantitative", "scale": {"domain": [0, 0.6], "nice": false, "zero": false},
                  "axis": {"orient": "bottom", "values": [0,0.1,0.2,0.3,0.4,0.5,0.6], "format": "~g", "ticks": false, "labelPadding": 3, "title": "(mT-m₀)/nq (GeV/c²)", "titleAnchor": "end", "titlePadding": 3}},
            "x2": {"field": "x1"},
            "y": {"field": "y0", "type": "quantitative", "scale": {"domain": [-0.005, 0.151], "nice": false, "zero": false},
                  "axis": {"orient": "left", "values": [0,0.02,0.04,0.06,0.08,0.1,0.12,0.14], "format": "~g", "ticks": false, "labelPadding": 2, "title": "v₂{SP, |Δη| > 0.9}/nq", "titleAnchor": "end", "titlePadding": 9}},
            "y2": {"field": "y1"},
            "color": {"field": "s", "type": "nominal", "scale": {"domain": ["pi","p","d"], "range": ["black","#229922","#ff0000"]}, "legend": null}
          }
        },
        {
          "transform": [{"filter": "isValid(datum.e0)"}],
          "mark": {"type": "rule", "strokeWidth": 1.5, "clip": true},
          "encoding": {
            "x": {"field": "x", "type": "quantitative", "scale": {"domain": [0, 0.6], "nice": false, "zero": false},
                  "axis": {"orient": "bottom", "values": [0,0.1,0.2,0.3,0.4,0.5,0.6], "labels": false, "title": null, "tickSize": 7, "offset": -7}},
            "y": {"field": "e0", "type": "quantitative", "scale": {"domain": [-0.005, 0.151], "nice": false, "zero": false},
                  "axis": {"orient": "left", "values": [0,0.02,0.04,0.06,0.08,0.1,0.12,0.14], "labels": false, "title": null, "tickSize": 7, "offset": -7}},
            "y2": {"field": "e1"},
            "color": {"field": "s", "type": "nominal", "scale": {"domain": ["pi","p","d"], "range": ["black","#229922","#ff0000"]}, "legend": null}
          }
        },
        {
          "transform": [{"filter": "datum.s == 'pi'"}],
          "mark": {"type": "point", "shape": "circle", "filled": false, "size": 40, "strokeWidth": 1.4, "color": "black", "clip": true},
          "encoding": {
            "x": {"field": "x", "type": "quantitative", "scale": {"domain": [0, 0.6], "nice": false, "zero": false},
                  "axis": {"orient": "top", "values": [0,0.1,0.2,0.3,0.4,0.5,0.6], "labels": false, "title": null, "tickSize": 7, "offset": -7}},
            "y": {"field": "y", "type": "quantitative", "scale": {"domain": [-0.005, 0.151], "nice": false, "zero": false},
                  "axis": {"orient": "right", "values": [0,0.02,0.04,0.06,0.08,0.1,0.12,0.14], "labels": false, "title": null, "tickSize": 7, "offset": -7}}
          }
        },
        {
          "transform": [{"filter": "datum.s == 'p'"}],
          "mark": {"type": "square", "size": 45, "color": "#229922", "opacity": 1, "clip": true},
          "encoding": {
            "x": {"field": "x", "type": "quantitative", "scale": {"domain": [0, 0.6], "nice": false, "zero": false},
                  "axis": {"orient": "bottom", "tickCount": 30, "labels": false, "title": null, "tickSize": 3.5, "offset": -3.5}},
            "y": {"field": "y", "type": "quantitative", "scale": {"domain": [-0.005, 0.151], "nice": false, "zero": false},
                  "axis": {"orient": "left", "tickCount": 31, "labels": false, "title": null, "tickSize": 3.5, "offset": -3.5}}
          }
        },
        {
          "transform": [{"filter": "datum.s == 'd'"}],
          "mark": {"type": "circle", "size": 50, "color": "#ff0000", "opacity": 1, "clip": true},
          "encoding": {
            "x": {"field": "x", "type": "quantitative", "scale": {"domain": [0, 0.6], "nice": false, "zero": false},
                  "axis": {"orient": "top", "tickCount": 30, "labels": false, "title": null, "tickSize": 3.5, "offset": -3.5}},
            "y": {"field": "y", "type": "quantitative", "scale": {"domain": [-0.005, 0.151], "nice": false, "zero": false},
                  "axis": {"orient": "right", "tickCount": 31, "labels": false, "title": null, "tickSize": 3.5, "offset": -3.5}}
          }
        }
      ]
    },
    {
      "width": 215, "height": 230,
      "view": {"stroke": null},
      "data": {"name": "info"},
      "layer": [
        {
          "transform": [{"filter": "datum.k == 'title'"}],
          "mark": {"type": "text", "fontSize": 21, "align": "center", "baseline": "alphabetic", "color": "black"},
          "encoding": {
            "x": {"field": "x", "type": "quantitative", "scale": {"domain": [0, 1]}, "axis": null},
            "y": {"field": "y", "type": "quantitative", "scale": {"domain": [0, 1]}, "axis": null},
            "text": {"field": "t"}
          }
        },
        {
          "transform": [{"filter": "datum.k == 'c'"}],
          "mark": {"type": "text", "fontSize": 16, "align": "center", "baseline": "alphabetic", "color": "black"},
          "encoding": {
            "x": {"field": "x", "type": "quantitative", "scale": {"domain": [0, 1]}, "axis": null},
            "y": {"field": "y", "type": "quantitative", "scale": {"domain": [0, 1]}, "axis": null},
            "text": {"field": "t"}
          }
        },
        {
          "transform": [{"filter": "datum.k == 'r'"}],
          "mark": {"type": "text", "fontSize": 16, "align": "right", "baseline": "alphabetic", "color": "black"},
          "encoding": {
            "x": {"field": "x", "type": "quantitative", "scale": {"domain": [0, 1]}, "axis": null},
            "y": {"field": "y", "type": "quantitative", "scale": {"domain": [0, 1]}, "axis": null},
            "text": {"field": "t"}
          }
        },
        {
          "transform": [{"filter": "datum.k == 'l'"}],
          "mark": {"type": "text", "fontSize": 16, "align": "left", "baseline": "alphabetic", "color": "black"},
          "encoding": {
            "x": {"field": "x", "type": "quantitative", "scale": {"domain": [0, 1]}, "axis": null},
            "y": {"field": "y", "type": "quantitative", "scale": {"domain": [0, 1]}, "axis": null},
            "text": {"field": "t"}
          }
        },
        {
          "transform": [{"filter": "datum.k == 'sub'"}],
          "mark": {"type": "text", "fontSize": 10, "align": "left", "baseline": "alphabetic", "color": "black"},
          "encoding": {
            "x": {"field": "x", "type": "quantitative", "scale": {"domain": [0, 1]}, "axis": null},
            "y": {"field": "y", "type": "quantitative", "scale": {"domain": [0, 1]}, "axis": null},
            "text": {"field": "t"}
          }
        }
      ]
    },
    {
      "width": 215, "height": 230,
      "data": {"name": "bm"},
      "resolve": {"axis": {"x": "independent", "y": "independent"}},
      "layer": [
        {
          "transform": [{"filter": "isValid(datum.x0)"}],
          "mark": {"type": "rect", "filled": false, "strokeWidth": 1.4, "clip": true},
          "encoding": {
            "x": {"field": "x0", "type": "quantitative", "scale": {"domain": [0, 0.86], "nice": false, "zero": false},
                  "axis": {"orient": "bottom", "values": [0,0.1,0.2,0.3,0.4,0.5,0.6,0.7,0.8], "format": "~g", "ticks": false, "labelPadding": 3, "title": "pT/nq (GeV/c)", "titleAnchor": "end", "titlePadding": 3}},
            "x2": {"field": "x1"},
            "y": {"field": "y0", "type": "quantitative", "scale": {"domain": [0.1, 1.9], "nice": false, "zero": false},
                  "axis": {"orient": "left", "values": [0.2,0.4,0.6,0.8,1,1.2,1.4,1.6,1.8], "format": "~g", "ticks": false, "labelPadding": 2, "title": "(v₂/nq)/(v₂/nq)Fit p", "titleFontSize": 16, "titleAnchor": "end", "titlePadding": 9}},
            "y2": {"field": "y1"},
            "color": {"field": "s", "type": "nominal", "scale": {"domain": ["pi","p","d"], "range": ["black","#229922","#ff0000"]}, "legend": null}
          }
        },
        {
          "transform": [{"filter": "isValid(datum.e0)"}],
          "mark": {"type": "rule", "strokeWidth": 1.5, "clip": true},
          "encoding": {
            "x": {"field": "x", "type": "quantitative", "scale": {"domain": [0, 0.86], "nice": false, "zero": false},
                  "axis": {"orient": "bottom", "values": [0,0.1,0.2,0.3,0.4,0.5,0.6,0.7,0.8], "labels": false, "title": null, "tickSize": 7, "offset": -7}},
            "y": {"field": "e0", "type": "quantitative", "scale": {"domain": [0.1, 1.9], "nice": false, "zero": false},
                  "axis": {"orient": "left", "values": [0.2,0.4,0.6,0.8,1,1.2,1.4,1.6,1.8], "labels": false, "title": null, "tickSize": 7, "offset": -7}},
            "y2": {"field": "e1"},
            "color": {"field": "s", "type": "nominal", "scale": {"domain": ["pi","p","d"], "range": ["black","#229922","#ff0000"]}, "legend": null}
          }
        },
        {
          "transform": [{"filter": "datum.s == 'pi'"}],
          "mark": {"type": "point", "shape": "circle", "filled": false, "size": 40, "strokeWidth": 1.4, "color": "black", "clip": true},
          "encoding": {
            "x": {"field": "x", "type": "quantitative", "scale": {"domain": [0, 0.86], "nice": false, "zero": false},
                  "axis": {"orient": "top", "values": [0,0.1,0.2,0.3,0.4,0.5,0.6,0.7,0.8], "labels": false, "title": null, "tickSize": 7, "offset": -7}},
            "y": {"field": "y", "type": "quantitative", "scale": {"domain": [0.1, 1.9], "nice": false, "zero": false},
                  "axis": {"orient": "right", "values": [0.2,0.4,0.6,0.8,1,1.2,1.4,1.6,1.8], "labels": false, "title": null, "tickSize": 7, "offset": -7}}
          }
        },
        {
          "transform": [{"filter": "datum.s == 'p'"}],
          "mark": {"type": "square", "size": 45, "color": "#229922", "opacity": 1, "clip": true},
          "encoding": {
            "x": {"field": "x", "type": "quantitative", "scale": {"domain": [0, 0.86], "nice": false, "zero": false},
                  "axis": {"orient": "bottom", "tickCount": 43, "labels": false, "title": null, "tickSize": 3.5, "offset": -3.5}},
            "y": {"field": "y", "type": "quantitative", "scale": {"domain": [0.1, 1.9], "nice": false, "zero": false},
                  "axis": {"orient": "left", "tickCount": 36, "labels": false, "title": null, "tickSize": 3.5, "offset": -3.5}}
          }
        },
        {
          "transform": [{"filter": "datum.s == 'd'"}],
          "mark": {"type": "circle", "size": 50, "color": "#ff0000", "opacity": 1, "clip": true},
          "encoding": {
            "x": {"field": "x", "type": "quantitative", "scale": {"domain": [0, 0.86], "nice": false, "zero": false},
                  "axis": {"orient": "top", "tickCount": 43, "labels": false, "title": null, "tickSize": 3.5, "offset": -3.5}},
            "y": {"field": "y", "type": "quantitative", "scale": {"domain": [0.1, 1.9], "nice": false, "zero": false},
                  "axis": {"orient": "right", "tickCount": 36, "labels": false, "title": null, "tickSize": 3.5, "offset": -3.5}}
          }
        }
      ]
    },
    {
      "width": 215, "height": 230,
      "data": {"name": "br"},
      "resolve": {"axis": {"x": "independent", "y": "independent"}},
      "layer": [
        {
          "transform": [{"filter": "isValid(datum.x0)"}],
          "mark": {"type": "rect", "filled": false, "strokeWidth": 1.4, "clip": true},
          "encoding": {
            "x": {"field": "x0", "type": "quantitative", "scale": {"domain": [-0.017, 0.625], "nice": false, "zero": false},
                  "axis": {"orient": "bottom", "values": [0,0.1,0.2,0.3,0.4,0.5,0.6], "format": "~g", "ticks": false, "labelPadding": 3, "title": "(mT-m₀)/nq (GeV/c²)", "titleAnchor": "end", "titlePadding": 3}},
            "x2": {"field": "x1"},
            "y": {"field": "y0", "type": "quantitative", "scale": {"domain": [0.1, 1.9], "nice": false, "zero": false},
                  "axis": {"orient": "left", "values": [0.2,0.4,0.6,0.8,1,1.2,1.4,1.6,1.8], "format": "~g", "ticks": false, "labelPadding": 2, "title": "(v₂/nq)/(v₂/nq)Fit p", "titleFontSize": 16, "titleAnchor": "end", "titlePadding": 9}},
            "y2": {"field": "y1"},
            "color": {"field": "s", "type": "nominal", "scale": {"domain": ["pi","p","d"], "range": ["black","#229922","#ff0000"]}, "legend": null}
          }
        },
        {
          "transform": [{"filter": "isValid(datum.e0)"}],
          "mark": {"type": "rule", "strokeWidth": 1.5, "clip": true},
          "encoding": {
            "x": {"field": "x", "type": "quantitative", "scale": {"domain": [-0.017, 0.625], "nice": false, "zero": false},
                  "axis": {"orient": "bottom", "values": [0,0.1,0.2,0.3,0.4,0.5,0.6], "labels": false, "title": null, "tickSize": 7, "offset": -7}},
            "y": {"field": "e0", "type": "quantitative", "scale": {"domain": [0.1, 1.9], "nice": false, "zero": false},
                  "axis": {"orient": "left", "values": [0.2,0.4,0.6,0.8,1,1.2,1.4,1.6,1.8], "labels": false, "title": null, "tickSize": 7, "offset": -7}},
            "y2": {"field": "e1"},
            "color": {"field": "s", "type": "nominal", "scale": {"domain": ["pi","p","d"], "range": ["black","#229922","#ff0000"]}, "legend": null}
          }
        },
        {
          "transform": [{"filter": "datum.s == 'pi'"}],
          "mark": {"type": "point", "shape": "circle", "filled": false, "size": 40, "strokeWidth": 1.4, "color": "black", "clip": true},
          "encoding": {
            "x": {"field": "x", "type": "quantitative", "scale": {"domain": [-0.017, 0.625], "nice": false, "zero": false},
                  "axis": {"orient": "top", "values": [0,0.1,0.2,0.3,0.4,0.5,0.6], "labels": false, "title": null, "tickSize": 7, "offset": -7}},
            "y": {"field": "y", "type": "quantitative", "scale": {"domain": [0.1, 1.9], "nice": false, "zero": false},
                  "axis": {"orient": "right", "values": [0.2,0.4,0.6,0.8,1,1.2,1.4,1.6,1.8], "labels": false, "title": null, "tickSize": 7, "offset": -7}}
          }
        },
        {
          "transform": [{"filter": "datum.s == 'p'"}],
          "mark": {"type": "square", "size": 45, "color": "#229922", "opacity": 1, "clip": true},
          "encoding": {
            "x": {"field": "x", "type": "quantitative", "scale": {"domain": [-0.017, 0.625], "nice": false, "zero": false},
                  "axis": {"orient": "bottom", "tickCount": 32, "labels": false, "title": null, "tickSize": 3.5, "offset": -3.5}},
            "y": {"field": "y", "type": "quantitative", "scale": {"domain": [0.1, 1.9], "nice": false, "zero": false},
                  "axis": {"orient": "left", "tickCount": 36, "labels": false, "title": null, "tickSize": 3.5, "offset": -3.5}}
          }
        },
        {
          "transform": [{"filter": "datum.s == 'd'"}],
          "mark": {"type": "circle", "size": 50, "color": "#ff0000", "opacity": 1, "clip": true},
          "encoding": {
            "x": {"field": "x", "type": "quantitative", "scale": {"domain": [-0.017, 0.625], "nice": false, "zero": false},
                  "axis": {"orient": "top", "tickCount": 32, "labels": false, "title": null, "tickSize": 3.5, "offset": -3.5}},
            "y": {"field": "y", "type": "quantitative", "scale": {"domain": [0.1, 1.9], "nice": false, "zero": false},
                  "axis": {"orient": "right", "tickCount": 36, "labels": false, "title": null, "tickSize": 3.5, "offset": -3.5}}
          }
        }
      ]
    }
  ],
  "config": {
    "font": "Liberation Sans",
    "view": {"stroke": "black", "strokeWidth": 1.5},
    "axis": {
      "grid": false, "domain": false,
      "labelFont": "Liberation Sans", "labelFontSize": 12, "labelColor": "black",
      "titleFont": "Liberation Sans", "titleFontSize": 19, "titleFontWeight": "normal", "titleColor": "black",
      "tickColor": "black", "tickWidth": 1, "labelFlush": false, "labelOverlap": false
    },
    "text": {"font": "Liberation Sans"}
  }
}
